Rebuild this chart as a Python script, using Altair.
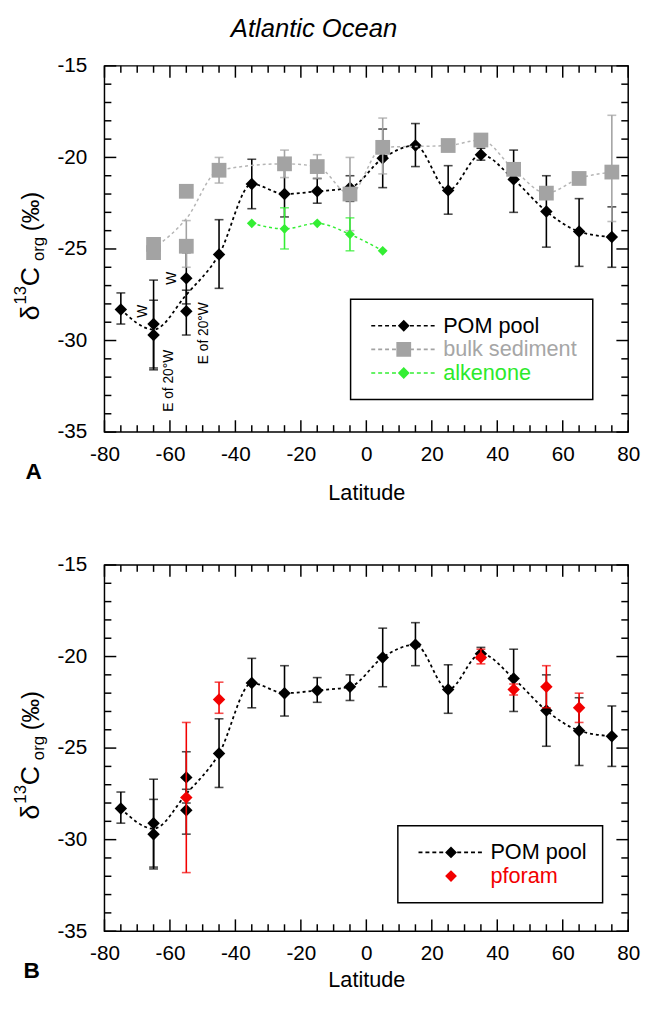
import altair as alt
import pandas as pd

FONT = "Liberation Sans"

# ---------------- data ----------------
# POM pool (both panels)
pom_lat = [-75, -65, -65, -55, -55, -45, -35, -25, -15, -5, 5, 15, 25, 35, 45, 55, 65, 75]
pom_val = [-28.3, -29.1, -29.7, -26.6, -28.4, -25.3, -21.45, -22.0, -21.85, -21.65,
           -20.05, -19.35, -21.8, -19.85, -21.2, -22.95, -24.05, -24.35]
pom_hi = [-27.4, -26.7, -27.8, -25.2, -27.25, -23.4, -20.1, -20.5, -21.15, -21.0,
          -18.45, -18.15, -20.45, -19.5, -19.6, -21.0, -22.25, -22.7]
pom_lo = [-29.1, -31.5, -31.6, -28.0, -29.7, -27.15, -22.8, -23.25, -22.5, -22.4,
          -21.65, -20.5, -23.1, -20.15, -23.0, -24.9, -25.95, -26.0]

# bulk sediment (panel A)
bulk_lat = [-65, -65, -55, -55, -45, -25, -15, -5, 5, 25, 35, 45, 55, 65, 75]
bulk_val = [-24.75, -25.2, -21.85, -24.85, -20.7, -20.35, -20.5, -22.0, -19.45,
            -19.35, -19.05, -20.65, -21.95, -21.15, -20.8]
bulk_hi = [None, None, None, -23.45, -20.0, -19.6, -19.85, -20.0, -17.85,
           None, None, None, None, None, -17.7]
bulk_lo = [None, None, None, -26.0, -21.4, -21.1, -21.15, -24.0, -20.9,
           None, None, None, None, None, -23.5]

# alkenone (panel A)
alk_lat = [-35, -25, -15, -5, 5]
alk_val = [-23.6, -23.9, -23.6, -24.2, -25.1]
alk_hi = [None, -22.75, None, -23.3, None]
alk_lo = [None, -25.0, None, -25.1, None]

# pforam (panel B)
pf_lat = [-55, -45, 35, 45, 55, 65]
pf_val = [-27.7, -22.35, -20.05, -21.8, -21.65, -22.8]
pf_hi = [-23.6, -21.4, -19.6, -21.5, -20.5, -22.0]
pf_lo = [-31.8, -23.1, -20.4, -22.1, -22.8, -23.6]

# annotations in panel A
ann_text = ["W", "W", "E of 20°W", "E of 20°W"]
ann_lat = [-68.2, -59.2, -60.4, -49.6]
ann_val = [-28.4, -26.6, -32.2, -29.6]

x_ticks_major = [-80, -60, -40, -20, 0, 20, 40, 60, 80]
x_ticks_minor = [-75, -70, -65, -55, -50, -45, -35, -30, -25, -15, -10, -5,
                 5, 10, 15, 25, 30, 35, 45, 50, 55, 65, 70, 75]
y_ticks_major = [-35, -30, -25, -20, -15]
y_ticks_minor = [-34, -33, -32, -31, -29, -28, -27, -26, -24, -23, -22, -21,
                 -19, -18, -17, -16]

series_a = ["POM pool", "bulk sediment", "alkenone"]
series_b = ["POM pool", "pforam"]

# ---------------- styling ----------------
BLACK = "black"
GRAY = "#a3a3a3"
GRAY_LINE = "#b5b5b5"
GREEN = "#33ee33"
RED = "#f20000"

W, H = 532, 372
MINOR, MAJOR = 7, 12

XS = alt.Scale(domain=[-80, 80], nice=False, zero=False)
YS = alt.Scale(domain=[-35, -15], nice=False, zero=False)


def make_x_axis(title_padding):
    return alt.Axis(values=x_ticks_major, ticks=False, tickSize=0, domain=False, grid=False,
                    labelFont=FONT, labelFontSize=21, labelColor=BLACK, labelPadding=12,
                    labelExpr="'' + datum.value", labelFlush=False, labelOverlap=False,
                    title="Latitude", titleFont=FONT, titleFontSize=22,
                    titleFontWeight="normal", titleColor=BLACK, titlePadding=title_padding)


y_axis = alt.Axis(values=y_ticks_major, ticks=False, tickSize=0, domain=False, grid=False,
                  labelFont=FONT, labelFontSize=21, labelColor=BLACK, labelPadding=18,
                  labelExpr="'' + datum.value", labelFlush=False, labelOverlap=False, title=None)


def make_X(axis):
    def X(field):
        return alt.X(field, type="quantitative", scale=XS, axis=axis)
    return X


def Y(field):
    return alt.Y(field, type="quantitative", scale=YS, axis=y_axis)


def frame(lat, val, hi=None, lo=None):
    d = {"lat": lat, "val": val}
    if hi is not None:
        d["hi"] = hi
        d["lo"] = lo
    return pd.DataFrame(d)


def series_layers(X, df, color, line_color, shape, size, dash=(3, 3), line=True, line_width=1.8):
    layers = []
    if line:
        layers.append(
            alt.Chart(df).transform_aggregate(m="mean(val)", groupby=["lat"])
            .mark_line(color=line_color, strokeDash=list(dash), strokeWidth=line_width,
                       interpolate="monotone")
            .encode(x=X("lat"), y=Y("m"))
        )
    if "hi" in df.columns:
        err = alt.Chart(df).transform_filter("isValid(datum.hi) && isFinite(datum.hi)")
        layers.append(err.mark_rule(color=color, strokeWidth=1.6)
                      .encode(x=X("lat"), y=Y("lo"), y2=alt.Y2("hi")))
        layers.append(err.transform_fold(["lo", "hi"], as_=["k", "v"])
                      .mark_tick(color=color, orient="horizontal", size=9, thickness=1.6)
                      .encode(x=X("lat"), y=Y("v")))
    layers.append(
        alt.Chart(df).mark_point(shape=shape, filled=True, color=color, size=size, opacity=1)
        .encode(x=X("lat"), y=Y("val"))
    )
    return layers


def tick_layers(X):
    """Inward ticks on all four edges: short rules positioned by the scales."""
    out = []
    for xv, yv, size in [(x_ticks_minor, y_ticks_minor, MINOR), (x_ticks_major, y_ticks_major, MAJOR)]:
        dy = size * 20.0 / H      # tick length in y-data units
        dx = size * 160.0 / W     # tick length in x-data units
        xdf = pd.DataFrame({"lat": xv})
        ydf = pd.DataFrame({"val": yv})
        st = dict(color=BLACK, strokeWidth=1.5)
        out.append(alt.Chart(xdf).transform_calculate(a="-35", b=f"-35 + {dy}")
                   .mark_rule(**st).encode(x=X("lat"), y=Y("a:Q"), y2="b:Q"))
        out.append(alt.Chart(xdf).transform_calculate(a="-15", b=f"-15 - {dy}")
                   .mark_rule(**st).encode(x=X("lat"), y=Y("a:Q"), y2="b:Q"))
        out.append(alt.Chart(ydf).transform_calculate(a="-80", b=f"-80 + {dx}")
                   .mark_rule(**st).encode(y=Y("val"), x=X("a:Q"), x2="b:Q"))
        out.append(alt.Chart(ydf).transform_calculate(a="80", b=f"80 - {dx}")
                   .mark_rule(**st).encode(y=Y("val"), x=X("a:Q"), x2="b:Q"))
    return out


def text_layer(txt, x, y, size, angle=270, weight="normal", baseline="alphabetic"):
    return alt.Chart(pd.DataFrame({"t": [txt]})).mark_text(
        angle=angle, align="center", baseline=baseline, font=FONT, fontSize=size,
        fontWeight=weight, color=BLACK
    ).encode(x=alt.value(x), y=alt.value(y), text="t:N")


def ytitle_layers():
    return [
        text_layer("δ", -67, 251, 27),
        text_layer("13", -80, 233, 17),
        text_layer("C", -67, 214, 27),
        text_layer("org", -61, 186, 17),
        text_layer("(‰)", -67, 148, 24),
    ]


def dash_segments(x0, x1, on, off, half):
    parts = []
    x = x0
    while x < x1 - 1e-9:
        e = min(x + on, x1)
        parts.append(f"M{x:.3f},{-half}H{e:.3f}V{half}H{x:.3f}Z")
        x = e + off
    return "".join(parts)


def with_line(marker):
    on, off, half = 0.67, 0.5, 0.14
    return dash_segments(-5.5, -1.05, on, off, half) + dash_segments(1.05, 5.5, on, off, half) + marker


DIAMOND = "M0,-1L1,0L0,1L-1,0Z"
SQUARE = "M-1.25,-1.25H1.25V1.25H-1.25Z"


def legend_layer(names, colors, paths, lx, ly, label_expr):
    leg = alt.Legend(title=None, orient="none", legendX=lx, legendY=ly, direction="vertical",
                     fillColor="white", strokeColor=BLACK, padding=16, rowPadding=2,
                     labelFont=FONT, labelFontSize=22, labelColor=alt.ExprRef(expr=label_expr),
                     labelLimit=400, symbolSize=144, symbolOffset=27, labelOffset=29,
                     symbolStrokeWidth=0, symbolOpacity=1)
    return alt.Chart(pd.DataFrame({"series": names})).transform_filter("false").mark_point(
        filled=True, size=144, opacity=1
    ).encode(
        color=alt.Color("series:N", scale=alt.Scale(domain=names, range=colors), legend=leg),
        shape=alt.Shape("series:N", scale=alt.Scale(domain=names, range=paths), legend=leg),
    )


pom_df = frame(pom_lat, pom_val, pom_hi, pom_lo)
bulk_df = frame(bulk_lat, bulk_val, bulk_hi, bulk_lo)
alk_df = frame(alk_lat, alk_val, alk_hi, alk_lo)
pf_df = frame(pf_lat, pf_val, pf_hi, pf_lo)
ann_df = pd.DataFrame({"lat": ann_lat, "val": ann_val, "txt": ann_text})

# ---------------- panel A ----------------
XA = make_X(make_x_axis(18))
ann = alt.Chart(ann_df).mark_text(angle=270, align="center", baseline="middle", font=FONT,
                                  fontSize=14, color=BLACK).encode(
    x=XA("lat"), y=Y("val"), text="txt:N")

panel_a = alt.layer(
    *tick_layers(XA),
    *series_layers(XA, pom_df, BLACK, BLACK, "diamond", 160),
    *series_layers(XA, bulk_df, GRAY, GRAY_LINE, "square", 225, line_width=1.5),
    *series_layers(XA, alk_df, GREEN, GREEN, "diamond", 100, line_width=1.5),
    ann,
    *ytitle_layers(),
    text_layer("A", -72, 413, 23, angle=0, weight="bold", baseline="middle"),
    legend_layer(series_a, [BLACK, GRAY, GREEN],
                 [with_line(DIAMOND), with_line(SQUARE), with_line(DIAMOND)], 250, 237,
                 "datum.label === 'bulk sediment' ? '#a6a6a6' : datum.label === 'alkenone' ? '#2bea2b' : 'black'"),
).properties(width=W, height=H)

# ---------------- panel B ----------------
XB = make_X(make_x_axis(6))
panel_b = alt.layer(
    *tick_layers(XB),
    *series_layers(XB, pom_df, BLACK, BLACK, "diamond", 160),
    *series_layers(XB, pf_df, RED, RED, "diamond", 160, line=False),
    *ytitle_layers(),
    text_layer("B", -74, 413, 23, angle=0, weight="bold", baseline="middle"),
    legend_layer(series_b, [BLACK, RED], [with_line(DIAMOND), DIAMOND], 298, 265,
                 "datum.label === 'pforam' ? '#f20000' : 'black'"),
).properties(width=W, height=H)

chart = alt.vconcat(panel_a, panel_b, spacing=50).resolve_scale(
    color="independent", shape="independent"
).resolve_legend(color="independent", shape="independent").properties(
    title=alt.TitleParams("Atlantic Ocean", font=FONT, fontSize=26, fontStyle="italic",
                          fontWeight="normal", anchor="middle", offset=13, dx=-12, color=BLACK),
    padding={"left": 3, "top": 0, "right": 0, "bottom": -6},
    background="white",
).configure_view(stroke=BLACK, strokeWidth=1.5).configure_legend(strokeWidth=1.5)

chart.save("out.html", embed_options={"renderer": "svg", "actions": False})
